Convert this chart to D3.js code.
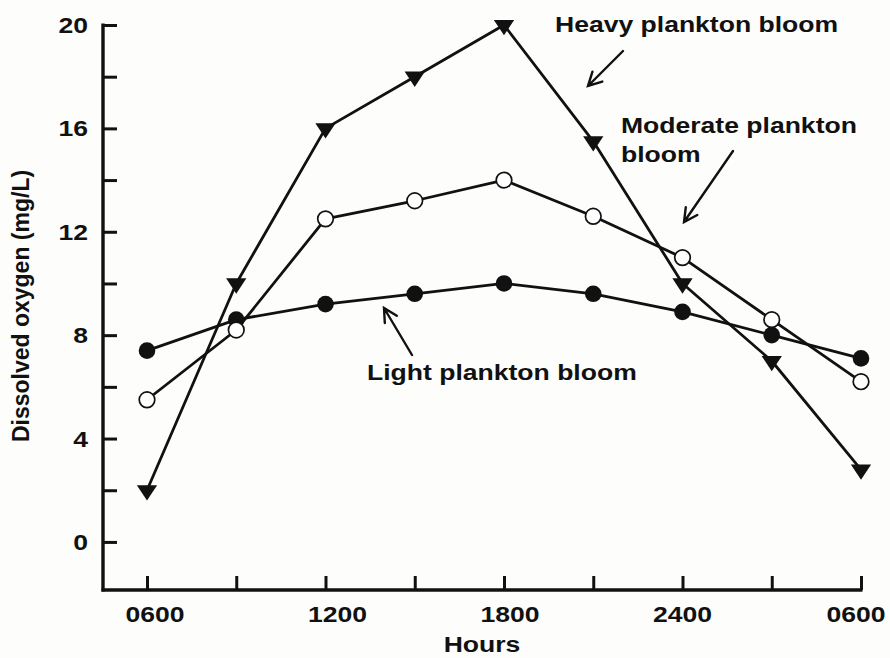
<!DOCTYPE html>
<html>
<head>
<meta charset="utf-8">
<script src="https://cdn.jsdelivr.net/npm/d3@7"></script>
<style>
  html, body { margin: 0; padding: 0; background: #fdfdfc; }
  svg { display: block; }
  text { font-family: "Liberation Sans", Arial, sans-serif; font-weight: bold; fill: #111; }
</style>
</head>
<body>
<svg id="chart" width="890" height="658"></svg>
<script>
// ---- data ----
const hours = ["0600", "0900", "1200", "1500", "1800", "2100", "2400", "0300", "0600"];
const xTickLabels = ["0600", "1200", "1800", "2400", "0600"];
const yTickValues = [0, 4, 8, 12, 16, 20];
const heavy    = [2.0, 10.0, 16.0, 18.0, 20.0, 15.5, 10.0, 7.0, 2.8];
const moderate = [5.5, 8.2, 12.5, 13.2, 14.0, 12.6, 11.0, 8.6, 6.2];
const light    = [7.4, 8.6, 9.2, 9.6, 10.0, 9.6, 8.9, 8.0, 7.1];
const labels = {
  heavy: ["Heavy plankton bloom"],
  moderate: ["Moderate plankton", "bloom"],
  light: ["Light plankton bloom"]
};

// ---- layout ----
const svg = d3.select("#chart");
const SX = 1.18; // horizontal stretch of the original picture
const FS = "22.5px";
const x = d3.scaleLinear().domain([0, hours.length - 1]).range([147, 861]);
const y = d3.scaleLinear().domain([-1.86, 20]).range([590, 25]);
const axisLeftX = 103;

// axes lines
const g = svg.append("g");
g.append("line").attr("x1", axisLeftX).attr("x2", axisLeftX)
  .attr("y1", y(20) - 1.5).attr("y2", y.range()[0] + 1.5)
  .attr("stroke", "#111").attr("stroke-width", 3.4);
g.append("line").attr("x1", axisLeftX - 1.5).attr("x2", x(hours.length - 1) + 1.5)
  .attr("y1", y.range()[0]).attr("y2", y.range()[0])
  .attr("stroke", "#111").attr("stroke-width", 3.4);

// y ticks (inward) using d3 axis
const yAxis = d3.axisRight(y).tickValues(d3.range(0, 21, 2)).tickSize(14).tickFormat("");
const ya = svg.append("g").attr("transform", `translate(${axisLeftX},0)`).call(yAxis);
ya.select(".domain").remove();
ya.selectAll(".tick line").attr("stroke", "#111").attr("stroke-width", 3);

// y tick labels
svg.append("g").selectAll("text").data(yTickValues).join("text")
  .attr("transform", d => `translate(88,${y(d)}) scale(${SX},1)`)
  .attr("text-anchor", "end").attr("dy", "0.36em")
  .style("font-size", FS).text(d => d);

// x ticks (inward/upward)
const xAxis = d3.axisTop(x).tickValues(d3.range(0, hours.length)).tickSize(14).tickFormat("");
const xa = svg.append("g").attr("transform", `translate(0,${y.range()[0]})`).call(xAxis);
xa.select(".domain").remove();
xa.selectAll(".tick line").attr("stroke", "#111").attr("stroke-width", 3);

// x tick labels
const xLabelNudge = [8, 12, 6, 0, -5];
svg.append("g").selectAll("text").data(xTickLabels).join("text")
  .attr("transform", (d, i) => `translate(${x(i * 2) + xLabelNudge[i]},622) scale(${SX},1)`)
  .attr("text-anchor", "middle")
  .style("font-size", FS).text(d => d);

// axis titles
svg.append("text").attr("transform", `translate(482,652) scale(${SX},1)`)
  .attr("text-anchor", "middle").style("font-size", FS).text("Hours");
svg.append("text").attr("transform", "translate(29,306) rotate(-90)")
  .attr("text-anchor", "middle").style("font-size", "23px").text("Dissolved oxygen (mg/L)");

// lines
const line = d3.line().x((d, i) => x(i)).y(d => y(d));
[light, moderate, heavy].forEach(s => {
  svg.append("path").attr("d", line(s)).attr("fill", "none")
    .attr("stroke", "#111").attr("stroke-width", 2.8).attr("stroke-linejoin", "round");
});

// markers
svg.append("g").selectAll("circle").data(light).join("circle")
  .attr("cx", (d, i) => x(i)).attr("cy", d => y(d)).attr("r", 8.3).attr("fill", "#111");
svg.append("g").selectAll("circle").data(moderate).join("circle")
  .attr("cx", (d, i) => x(i)).attr("cy", d => y(d)).attr("r", 7.8)
  .attr("fill", "#fff").attr("stroke", "#111").attr("stroke-width", 1.7);
const tri = d3.symbol().type(d3.symbolTriangle).size(135);
svg.append("g").selectAll("path").data(heavy).join("path")
  .attr("d", tri)
  .attr("transform", (d, i) => `translate(${x(i)},${y(d)}) rotate(180) scale(1.15,1)`)
  .attr("fill", "#111");

// annotations
function label(lines, x0, y0, lh) {
  lines.forEach((t, k) => {
    svg.append("text").attr("transform", `translate(${x0},${y0 + k * lh}) scale(${SX},1)`)
      .style("font-size", FS).text(t);
  });
}
function arrow(x1, y1, x2, y2) {
  const a = Math.atan2(y2 - y1, x2 - x1), L = 15, w = Math.PI / 6.5;
  const p = d3.path();
  p.moveTo(x1, y1); p.lineTo(x2, y2);
  p.moveTo(x2 - L * Math.cos(a - w), y2 - L * Math.sin(a - w));
  p.lineTo(x2, y2);
  p.lineTo(x2 - L * Math.cos(a + w), y2 - L * Math.sin(a + w));
  svg.append("path").attr("d", p.toString()).attr("fill", "none")
    .attr("stroke", "#111").attr("stroke-width", 2.4).attr("stroke-linecap", "round");
}
label(labels.heavy, 555, 32, 0);
arrow(623, 51, 588, 86);
label(labels.moderate, 621, 133, 29);
arrow(733, 151, 684, 222);
label(labels.light, 367, 380, 0);
arrow(412, 355, 384, 308);
</script>
</body>
</html>
